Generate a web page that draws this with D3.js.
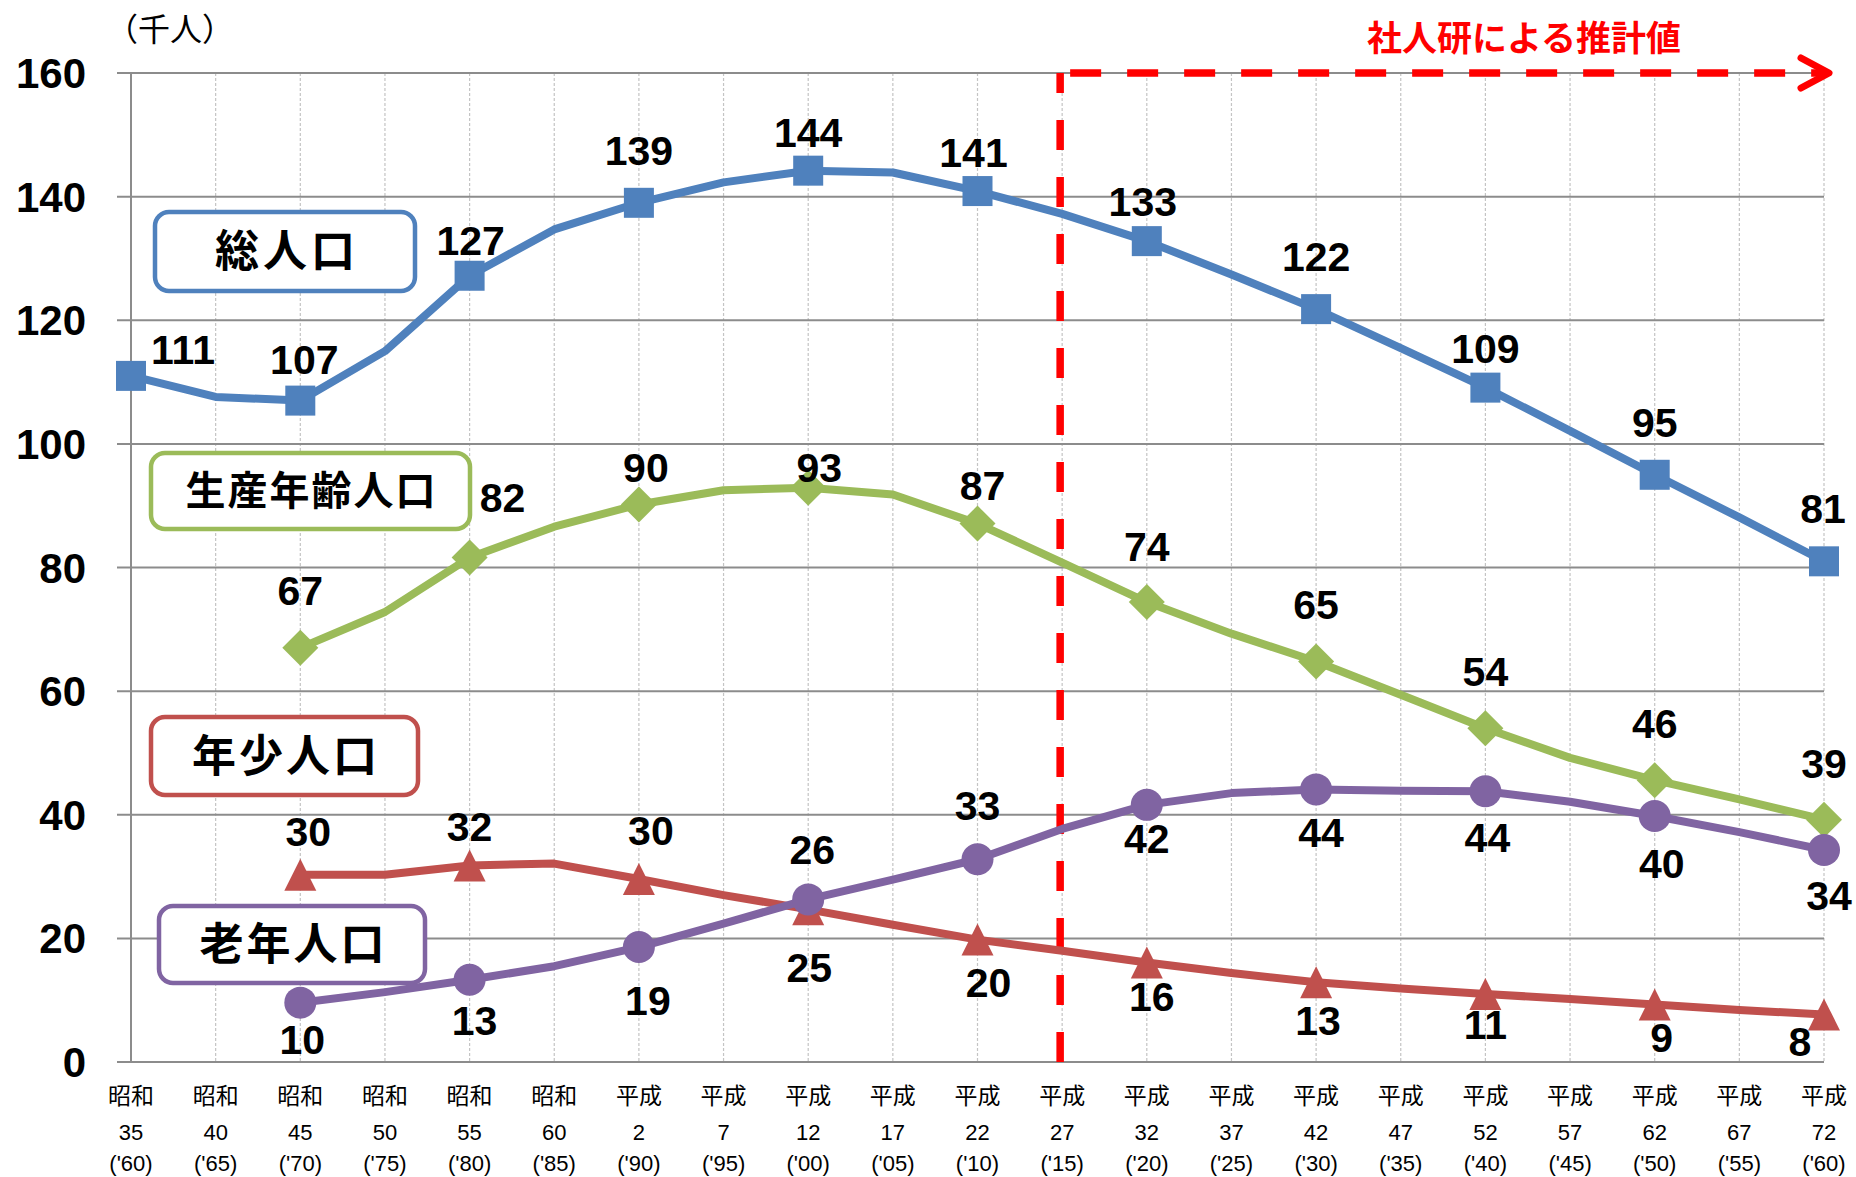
<!DOCTYPE html>
<html><head><meta charset="utf-8">
<script src="https://cdn.jsdelivr.net/npm/d3@7"></script>
<style>body{margin:0;background:#fff}</style>
</head><body>
<svg id="chart" width="1856" height="1177"></svg>
<script>
// ---- data ----
const eraNames = ["昭和","昭和","昭和","昭和","昭和","昭和","平成","平成","平成","平成","平成","平成","平成","平成","平成","平成","平成","平成","平成","平成","平成"];
const eraYears = ["35","40","45","50","55","60","2","7","12","17","22","27","32","37","42","47","52","57","62","67","72"];
const westYears = ["('60)","('65)","('70)","('75)","('80)","('85)","('90)","('95)","('00)","('05)","('10)","('15)","('20)","('25)","('30)","('35)","('40)","('45)","('50)","('55)","('60)"];
const categories = eraNames.map((e,i)=>e+eraYears[i]+westYears[i]);

const totalPop   = [111.0,107.6,107.0,115.0,127.2,134.7,139.0,142.3,144.2,143.9,140.9,137.2,132.8,127.4,121.8,115.5,109.1,102.1,95.0,88.1,81.0];
const workingPop = [null,null,67.0,72.8,81.6,86.6,90.2,92.5,92.9,91.8,87.1,80.8,74.4,69.3,64.8,59.4,54.0,49.2,45.6,42.5,39.2];
const youngPop   = [null,null,30.3,30.3,31.8,32.1,29.6,27.0,24.7,22.2,19.8,18.0,16.1,14.4,12.9,11.9,11.0,10.2,9.3,8.4,7.7];
const elderlyPop = [null,null,9.6,11.3,13.3,15.5,18.6,22.4,26.3,29.5,32.8,37.7,41.6,43.5,44.1,43.9,43.8,42.1,39.8,37.2,34.3];

const yTicks = [0,20,40,60,80,100,120,140,160];
const unitLabel = "（千人）";
const forecastLabel = "社人研による推計値";
const forecastStart = 11; // index of 平成27
const seriesNames = ["総人口","生産年齢人口","年少人口","老年人口"];

// ---- layout / style ----
const svg = d3.select("#chart");
const x = d3.scalePoint().domain(categories).range([131, 1824]);
const y = d3.scaleLinear().domain([0,160]).range([1062, 73]);
const numFont = "'Liberation Sans', Arial, sans-serif";
const jpFont = "'Noto Sans CJK JP', 'Noto Sans', sans-serif";

// label offsets for each marker point (dx, dy) in px
const labelOffsets = {
  total:   [[52,-27],[4,-41],[1,-36],[0,-53],[0,-38],[-4,-39],[-4,-40],[0,-53],[0,-39],[0,-53],[-1,-53]],
  working: [[0,-58],[33,-60],[7,-37],[11,-21],[5,-38],[0,-56],[0,-57],[0,-57],[0,-57],[0,-56]],
  young:   [[8,-43],[0,-39],[12,-49],[1,58],[11,43],[5,34],[2,38],[0,30],[7,33],[-24,27]],
  elderly: [[2,37],[5,40],[9,53],[4,-50],[0,-54],[0,33],[5,43],[2,46],[7,47],[5,45]]
};

const series = [
  {key:"total", values: totalPop, color:"#4F81BD", marker:"square", box:{name:seriesNames[0], x:155,y:212,w:260,h:79, fs:44, ls:4}},
  {key:"working", values: workingPop, color:"#9BBB59", marker:"diamond", box:{name:seriesNames[1], x:151,y:453,w:319,h:76, fs:40, ls:2}},
  {key:"young", values: youngPop, color:"#C0504D", marker:"triangle", box:{name:seriesNames[2], x:151,y:717,w:267,h:78, fs:44, ls:3}},
  {key:"elderly", values: elderlyPop, color:"#8064A2", marker:"circle", box:{name:seriesNames[3], x:159,y:906,w:266,h:77, fs:44, ls:3}}
];

// ---- grid ----
const g = svg.append("g");
g.selectAll("line.vg").data(categories.slice(1)).enter().append("line")
  .attr("x1", d=>x(d)).attr("x2", d=>x(d))
  .attr("y1", y(160)).attr("y2", y(0))
  .attr("stroke","#c4c4c4").attr("stroke-width",1.2).attr("stroke-dasharray","3,2");
g.selectAll("line.hg").data(yTicks).enter().append("line")
  .attr("x1", 117).attr("x2", x.range()[1])
  .attr("y1", d=>y(d)).attr("y2", d=>y(d))
  .attr("stroke","#8c8c8c").attr("stroke-width",2);
g.append("line").attr("x1",x.range()[0]).attr("x2",x.range()[0]).attr("y1",y(160)).attr("y2",y(0))
  .attr("stroke","#8c8c8c").attr("stroke-width",2);

// y tick labels
g.selectAll("text.yt").data(yTicks).enter().append("text")
  .attr("x", 86).attr("y", d=>y(d)).attr("dy","0.36em")
  .attr("text-anchor","end").attr("font-family",numFont).attr("font-weight","bold")
  .attr("font-size",42).attr("fill","#000").text(d=>d);

// x tick labels
const xl = g.selectAll("g.xl").data(categories).enter().append("g")
  .attr("transform",(d)=>`translate(${x(d)},0)`);
xl.append("text").attr("y",1096).attr("dy","0.35em").attr("text-anchor","middle")
  .attr("font-family",jpFont).attr("font-size",23).text((d,i)=>eraNames[i]);
xl.append("text").attr("y",1132).attr("dy","0.35em").attr("text-anchor","middle")
  .attr("font-family",numFont).attr("font-size",22).text((d,i)=>eraYears[i]);
xl.append("text").attr("y",1163).attr("dy","0.35em").attr("text-anchor","middle")
  .attr("font-family",numFont).attr("font-size",22).text((d,i)=>westYears[i]);

// unit label
svg.append("text").attr("x",106).attr("y",29).attr("dy","0.36em")
  .attr("font-family",jpFont).attr("font-size",32).text(unitLabel);

// ---- series name boxes ----
series.forEach(s=>{
  const b = s.box;
  svg.append("rect").attr("x",b.x).attr("y",b.y).attr("width",b.w).attr("height",b.h)
    .attr("rx",14).attr("fill","#fff").attr("stroke",s.color).attr("stroke-width",4.5);
  svg.append("text").attr("x",b.x+b.w/2 + b.ls/2).attr("y",b.y+b.h/2).attr("dy","0.36em")
    .attr("text-anchor","middle").attr("font-family",jpFont).attr("font-weight","bold")
    .attr("font-size",b.fs).attr("letter-spacing",b.ls).text(b.name);
});

// ---- forecast marker ----
const fx = x(categories[forecastStart]) - 2;
svg.append("line").attr("x1",fx).attr("x2",fx).attr("y1",y(0)).attr("y2",y(160))
  .attr("stroke","#FF0000").attr("stroke-width",7.5).attr("stroke-dasharray","30,27");
svg.append("line").attr("x1",fx+10).attr("x2",1826).attr("y1",y(160)).attr("y2",y(160))
  .attr("stroke","#FF0000").attr("stroke-width",7.5).attr("stroke-dasharray","31,26");
svg.append("path").attr("d",`M1801,${y(160)-15} L1829,${y(160)} L1801,${y(160)+15}`)
  .attr("fill","none").attr("stroke","#FF0000").attr("stroke-width",7).attr("stroke-linecap","round").attr("stroke-linejoin","round");
svg.append("text").attr("x",1524).attr("y",38).attr("dy","0.36em").attr("text-anchor","middle")
  .attr("font-family",jpFont).attr("font-weight","bold").attr("font-size",35).attr("fill","#FF0000")
  .text(forecastLabel);

// ---- lines & markers ----
const line = d3.line().defined(d=>d.v!=null).x(d=>x(d.c)).y(d=>y(d.v));
series.forEach(s=>{
  const pts = s.values.map((v,i)=>({c:categories[i], v, i}));
  svg.append("path").datum(pts).attr("d",line).attr("fill","none")
    .attr("stroke",s.color).attr("stroke-width",8).attr("stroke-linejoin","round");
  const mk = pts.filter(p=>p.v!=null && p.i%2===0);
  const mg = svg.append("g").attr("fill",s.color);
  mk.forEach((p,j)=>{
    const cx = x(p.c), cy = y(p.v);
    if (s.marker==="square") mg.append("rect").attr("x",cx-15).attr("y",cy-15).attr("width",30).attr("height",30);
    else if (s.marker==="diamond") mg.append("path").attr("d",`M${cx},${cy-18}L${cx+18},${cy}L${cx},${cy+18}L${cx-18},${cy}Z`);
    else if (s.marker==="triangle") mg.append("path").attr("d",`M${cx},${cy-16}L${cx+16},${cy+16}L${cx-16},${cy+16}Z`);
    else mg.append("circle").attr("cx",cx).attr("cy",cy).attr("r",16);
    const off = labelOffsets[s.key][j];
    svg.append("text").attr("x",cx+off[0]).attr("y",cy+off[1]).attr("dy","0.36em")
      .attr("text-anchor","middle").attr("font-family",numFont).attr("font-weight","bold")
      .attr("font-size",41).attr("fill","#000").text(Math.round(p.v));
  });
});
</script>
</body></html>
